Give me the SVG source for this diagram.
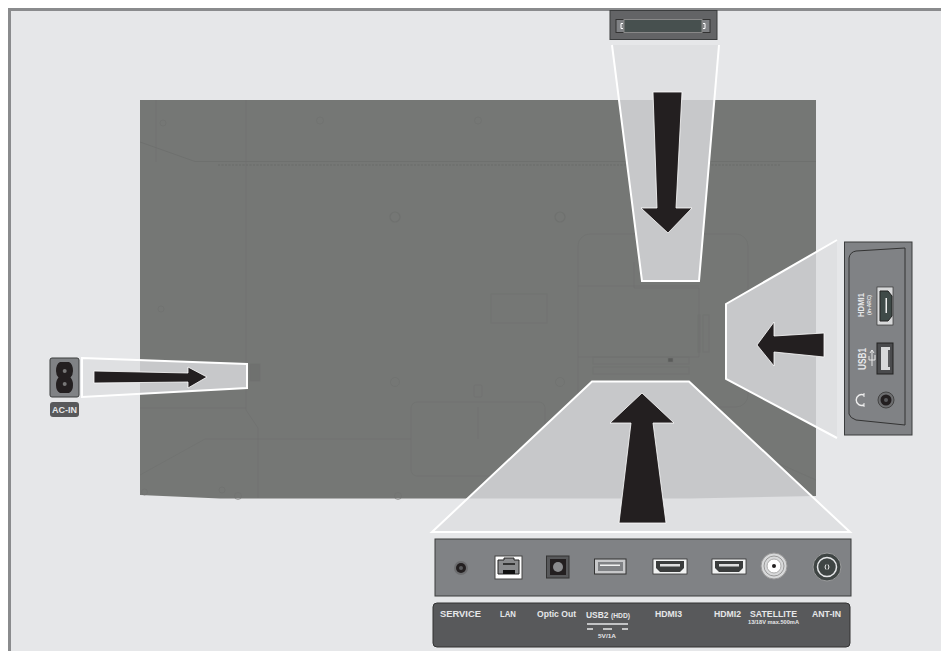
<svg xmlns="http://www.w3.org/2000/svg" width="941" height="651" viewBox="0 0 941 651">
<style>
text{font-family:"Liberation Sans",Arial,sans-serif;font-weight:bold;fill:#e6e7e9}
.t{fill:none;stroke:#6f716f;stroke-width:.6}
.z{fill:#dfe0e2}
.y{fill:#c7c8ca}
.e{fill:none;stroke:#fff;stroke-width:2}
.a{fill:#231f20;stroke:#fff;stroke-width:.8}
.p{fill:#808285;stroke:#3a3c3d;stroke-width:1}
.l{fill:#58595b}
.w{fill:#f1f2f2;stroke:#333;stroke-width:.8}
</style>
<defs>
<clipPath id="tv"><path d="M140 100H816V496L690 498.500H220L140 495Z"/></clipPath>
<path id="z1" d="M612 45L642 281H699L719 45Z"/>
<path id="z2" d="M432 532L592 381.500H689L850 532Z"/>
<path id="z3" d="M726 304L837 240V438L726 379Z"/>
<path id="z4" d="M82 358L247 364V388L82 397Z"/>
</defs>
<rect width="941" height="651" fill="#fff"/>
<rect x="9" y="9" width="932" height="642" fill="#e6e7e9"/>
<path d="M9.500 651V9.500H941" fill="none" stroke="#8a8b8d" stroke-width="3"/>
<g id="tv-back">
<path d="M140 100H816V496L690 498.500H220L140 495Z" fill="#757775"/>
<g class="t">
<path d="M140 142L195 161.500H816" style="stroke:#696b69"/>
<path d="M218 165H780" stroke-width="2" stroke-dasharray="2 1.500"/>
<path d="M156 100V162M246 100V410L258 428V498M140 408H246M205 439H411M140 475L205 439"/>
<circle cx="163" cy="123" r="3"/><circle cx="320" cy="120.500" r="3.500"/><circle cx="478" cy="120.500" r="3.500"/>
<circle cx="395" cy="217" r="5" stroke-width="1.200"/><circle cx="560" cy="217" r="5" stroke-width="1.200"/><circle cx="161" cy="309" r="3"/>
<circle cx="395" cy="382" r="4.500"/><circle cx="560" cy="382" r="4.500"/><circle cx="144.500" cy="492" r="3"/>
<circle cx="222" cy="490" r="3"/><circle cx="238" cy="496" r="3.500"/><circle cx="398" cy="496" r="3.500"/>
<rect x="491" y="294" width="56" height="29"/>
<rect x="411" y="402" width="134" height="74" rx="6"/>
<path d="M478 407V439"/>
<rect x="474" y="385" width="8" height="12" rx="1"/>
<rect x="250" y="364" width="10" height="17" style="fill:#6f716f"/>
<rect x="578" y="234" width="170" height="173" rx="12"/>
<path d="M578 286H699M634 262V288H699V357M578 357H699"/>
<rect x="593" y="357" width="96" height="7"/><rect x="593" y="367" width="96" height="7"/>
<rect x="698" y="315" width="2" height="37"/><rect x="703" y="315" width="6" height="37"/>
<rect x="668" y="358" width="5" height="4" style="fill:#5a5c5a"/>
<path d="M748 450L816 480"/>
</g>
</g>
<g id="zones">
<use href="#z1" class="z"/><use href="#z2" class="z"/><use href="#z3" class="z"/><use href="#z4" class="z"/>
<g clip-path="url(#tv)"><use href="#z1" class="y"/><use href="#z2" class="y"/><use href="#z3" class="y"/><use href="#z4" class="y"/></g>
<path class="e" d="M612 45L642 281H699L719 45"/>
<path class="e" d="M432 532L592 381.500H689L850 532Z"/>
<path class="e" d="M837 240L726 304V379L837 438"/>
<path class="e" d="M82 358L247 364V388L82 397Z"/>
</g>
<g id="connectors">
<path class="a" d="M653 92H682L676 208H692L668 233L641 208H657Z"/>
<path class="a" d="M619 523L631 423H610L642 393L674 423H653L666 523Z"/>
<path class="a" d="M824 333V357L774 352V366L757 345L774 322V336Z"/>
<path class="a" d="M94 371L188 373V367L207 377L188 388V382L94 383Z"/>
</g>
<g id="top-connector">
<rect x="610" y="10.500" width="107" height="29" fill="#636466" stroke="#3a3c3d"/>
<rect x="616" y="19.500" width="94" height="13" fill="#808285" stroke="#333"/>
<rect x="624" y="19.500" width="78" height="13" fill="#47504f" stroke="#888"/>
<path d="M623 23.500H621V28.500H623M703 23.500H705V28.500H703" fill="none" stroke="#fff"/>
</g>
<g id="ac-in">
<rect x="50" y="358" width="29" height="39" rx="2" class="p"/>
<path d="M60 362H69Q73 364 73 371Q73 375 70.500 377.500Q73 380 73 385Q73 391 69 393H60Q56 391 56 385Q56 380 58.500 377.500Q56 375 56 371Q56 364 60 362Z" fill="#231f20"/>
<circle cx="64.700" cy="371" r="2" fill="#777"/><circle cx="64.700" cy="384" r="2" fill="#777"/>
<rect x="50" y="402" width="29" height="15" rx="3" class="l"/>
<text x="64.500" y="413" font-size="9" text-anchor="middle">AC-IN</text>
</g>
<g id="side-panel">
<rect x="844.500" y="242" width="67.500" height="193" class="p"/>
<path d="M849 258Q850 252 856 251L905 248V425L856 420Q850 418 849 414Z" fill="none" stroke="#333"/>
<g id="hdmi1">
<rect x="877" y="287" width="16" height="38" fill="#d8d9da" stroke="#333" stroke-width=".7"/>
<path d="M880 291H888L892 296V316L888 321H880Z" fill="#3f4a48" stroke="#222"/>
<rect x="885.500" y="298" width="1.500" height="15" fill="#eee"/>
<text transform="translate(864 317) rotate(-90)" font-size="9.500" textLength="24" lengthAdjust="spacingAndGlyphs">HDMI1</text>
<text transform="translate(871 315) rotate(-90)" font-size="5.500" font-weight="normal" textLength="20" lengthAdjust="spacingAndGlyphs">(in-ARC)</text>
</g>
<g id="usb1">
<rect x="877" y="343" width="16" height="31" fill="#4a4b4d" stroke="#222"/>
<rect x="881" y="347" width="9" height="23" fill="#d8d9da"/>
<rect x="888" y="350" width="2" height="17" fill="#58595b"/>
<text transform="translate(866 370) rotate(-90)" font-size="10" textLength="22" lengthAdjust="spacingAndGlyphs">USB1</text>
<path d="M872 350V366M869 356V360H875V355M872 350L870 353M872 350L874 353" fill="none" stroke="#eee" stroke-width=".9"/>
</g>
<g id="headphone">
<circle cx="886" cy="400" r="8" fill="#6d6e70" stroke="#444"/><circle cx="886" cy="400" r="5.500" fill="#231f20"/><circle cx="886" cy="400" r="2" fill="#58595b"/>
<path d="M864 405A5.500 5.500 0 1 1 864 395" fill="none" stroke="#eee" stroke-width="1.400"/>
<path d="M864 393V397M864 403V407" stroke="#eee" stroke-width="1" fill="none"/>
</g>
</g>
<g id="bottom-panel">
<rect x="435" y="539" width="416" height="57" class="p"/>
<g id="service"><circle cx="461" cy="568" r="7" fill="#6d6e70"/><circle cx="461" cy="568" r="5" fill="#231f20"/><circle cx="461" cy="568" r="2" fill="#58595b"/></g>
<g id="lan"><rect x="495" y="556" width="27" height="23" fill="#fff" stroke="#444"/><path d="M498 560H504V558H514V560H519V574H498Z" fill="#8a8b8d" stroke="#222"/><path d="M503 574V570H515V574Z" fill="#111"/><path d="M503 564H515" stroke="#333" stroke-width="2"/></g>
<g id="optic"><rect x="546.500" y="556" width="22.500" height="22" fill="#58595b" stroke="#333"/><rect x="550" y="559" width="16" height="16" fill="#231f20"/><circle cx="558" cy="567" r="5" fill="#8a8b8d"/></g>
<g id="usb2"><rect x="594.500" y="559" width="31.500" height="15" fill="#c7c8ca" stroke="#333"/><rect x="598" y="562" width="25" height="9" fill="#808285"/><rect x="600" y="564.500" width="20" height="1.500" fill="#f1f2f2"/></g>
<g id="hdmi3"><rect x="653" y="559" width="34" height="15" class="w"/><path d="M656 561H684V568L680 572H660L656 568Z" fill="#3a3c3c"/><rect x="660" y="564" width="20" height="2.500" fill="#ddd"/></g>
<g id="hdmi2"><rect x="712" y="559" width="34" height="15" class="w"/><path d="M715 561H743V568L739 572H719L715 568Z" fill="#3a3c3c"/><rect x="719" y="564" width="20" height="2.500" fill="#ddd"/></g>
<g id="satellite"><circle cx="774" cy="566" r="13" fill="#d8d9da" stroke="#999"/><circle cx="774" cy="566" r="10" fill="none" stroke="#999"/><circle cx="774" cy="566" r="7" fill="#fff" stroke="#aaa"/><circle cx="774" cy="566" r="2" fill="#231f20"/></g>
<g id="ant-in"><circle cx="827" cy="567" r="14" fill="#3f4544" stroke="#9a9b9c"/><circle cx="827" cy="567" r="9.500" fill="#3f4544" stroke="#e6e7e9" stroke-width="1.500"/><path d="M826 564.500L825 567L826 569.500M828 564.500L829 567L828 569.500" fill="none" stroke="#eee"/></g>
</g>
<g id="labels-panel">
<rect x="433" y="603" width="417" height="44" rx="4" class="l" stroke="#333"/>
<g>
<text x="440" y="617" font-size="9.500" textLength="41" lengthAdjust="spacingAndGlyphs">SERVICE</text>
<text x="500" y="617" font-size="8.500" textLength="16" lengthAdjust="spacingAndGlyphs">LAN</text>
<text x="537" y="617" font-size="9" textLength="39" lengthAdjust="spacingAndGlyphs">Optic Out</text>
<text x="586" y="618" font-size="9" textLength="22.500" lengthAdjust="spacingAndGlyphs">USB2</text>
<text x="611" y="618" font-size="6.500" textLength="19" lengthAdjust="spacingAndGlyphs">(HDD)</text>
<text x="655" y="617" font-size="9" textLength="27" lengthAdjust="spacingAndGlyphs">HDMI3</text>
<text x="714" y="617" font-size="9" textLength="27" lengthAdjust="spacingAndGlyphs">HDMI2</text>
<text x="750" y="617" font-size="9.500" textLength="47" lengthAdjust="spacingAndGlyphs">SATELLITE</text>
<text x="748" y="624" font-size="5.500" textLength="51" lengthAdjust="spacingAndGlyphs">13/18V max.500mA</text>
<text x="812" y="617" font-size="9" textLength="29" lengthAdjust="spacingAndGlyphs">ANT-IN</text>
<text x="598" y="638" font-size="5.500" textLength="18" lengthAdjust="spacingAndGlyphs">5V/1A</text>
</g>
<path d="M587 624H628" stroke="#e6e7e9" stroke-width="1.500"/>
<path d="M587 629H593M603 629H612M622 629H628" stroke="#e6e7e9" stroke-width="1.500"/>
</g>
</svg>
